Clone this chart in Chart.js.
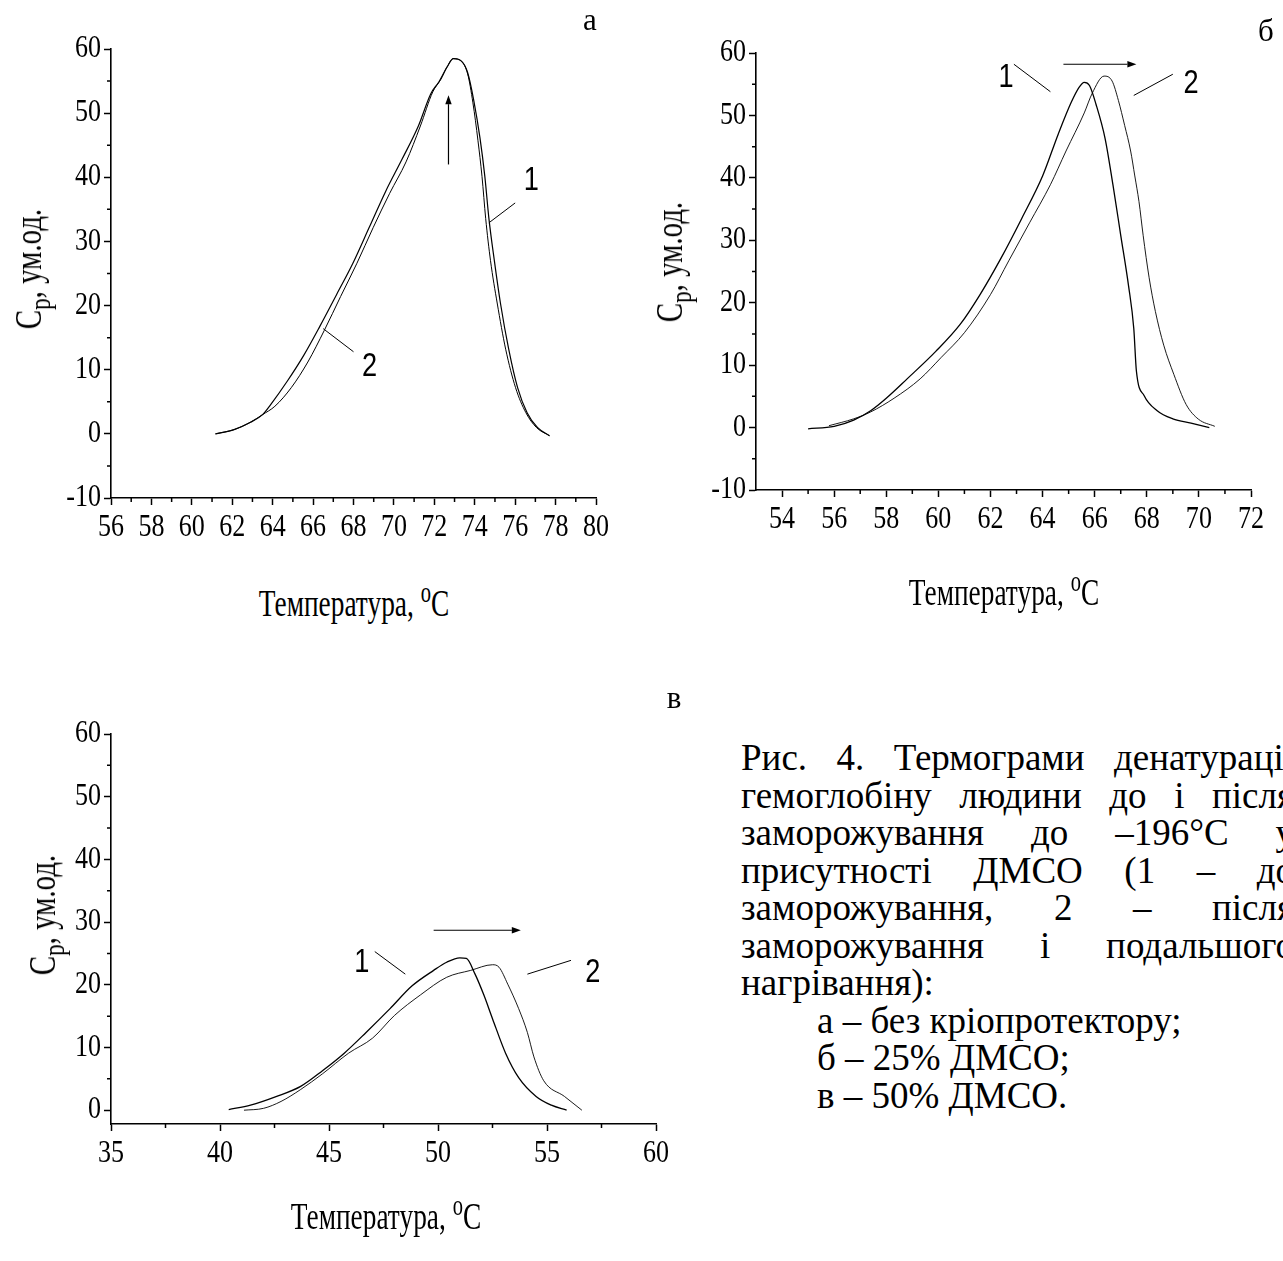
<!DOCTYPE html>
<html>
<head>
<meta charset="utf-8">
<script src="https://cdn.jsdelivr.net/npm/chart.js@4.4.0/dist/chart.umd.min.js"></script>
<style>
  html, body { margin: 0; padding: 0; background: #fff; overflow: hidden; width: 1283px; height: 1261px; }
  canvas { position: absolute; }
  .t { position: absolute; font-family: "Liberation Serif", "Times New Roman", serif; color: #000; white-space: nowrap; line-height: 1; }
  .xt { font-size: 38px; transform: translate(-50%, -50%) scaleX(0.72); }
  .yt { font-size: 38px; transform: translate(-50%, -50%) rotate(-90deg) scaleX(0.76); }
  .pl { font-size: 31px; transform: translate(-50%, -50%); }
  sub { font-size: 0.8em; vertical-align: -0.3em; line-height: 0; }
  sup { font-size: 0.75em; vertical-align: 0.5em; line-height: 0; }
  #cap { position: absolute; left: 741px; top: 739px; width: 553px; font-family: "Liberation Serif", "Times New Roman", serif; font-size: 37px; line-height: 37.5px; color: #000; }
  #cap .j { text-align: justify; text-align-last: justify; white-space: nowrap; }
  #cap .li { padding-left: 76px; }
</style>
</head>
<body>
<canvas id="chA" width="640" height="570" style="left:0;top:0"></canvas>
<canvas id="chB" width="643" height="570" style="left:640px;top:0"></canvas>
<canvas id="chC" width="700" height="540" style="left:0;top:680px"></canvas>

<div class="t pl" style="left:590px;top:19px">а</div>
<div class="t pl" style="left:1266px;top:30px">б</div>
<div class="t pl" style="left:674px;top:697px">в</div>

<div class="t yt" style="left:28px;top:269px">C<sub>p</sub>, ум.од.</div>
<div class="t yt" style="left:669px;top:262px">C<sub>p</sub>, ум.од.</div>
<div class="t yt" style="left:42px;top:915px">C<sub>p</sub>, ум.од.</div>

<div class="t xt" style="left:354px;top:603px">Температура, <sup>o</sup>C</div>
<div class="t xt" style="left:1004px;top:592px">Температура, <sup>o</sup>C</div>
<div class="t xt" style="left:386px;top:1216px">Температура, <sup>o</sup>C</div>

<div id="cap">
  <div class="j">Рис. 4. Термограми денатурації</div>
  <div class="j">гемоглобіну людини до і після</div>
  <div class="j">заморожування до –196°С у</div>
  <div class="j">присутності ДМСО (1 – до</div>
  <div class="j">заморожування, 2 – після</div>
  <div class="j">заморожування і подальшого</div>
  <div>нагрівання):</div>
  <div class="li">а – без кріопротектору;</div>
  <div class="li">б – 25% ДМСО;</div>
  <div class="li">в – 50% ДМСО.</div>
</div>

<script>
const SERIF = '"Liberation Serif", "Times New Roman", serif';
const SANS = '"Liberation Sans", Arial, sans-serif';

// ---- а: без кріопротектору ----
const tempA1 = [61.17, 62.09, 62.9, 63.5, 63.91, 64.72, 65.53, 66.34, 67.16, 67.97, 68.78, 69.59, 70.4, 71.21, 71.82, 72.23, 72.63, 72.94, 73.34, 73.65, 73.95, 74.26, 74.5, 74.7, 74.97, 75.27, 75.68, 76.12, 76.59, 77.1, 77.7];
const cpA1   = [0, 0.66, 1.8, 3.0, 4.6, 8.2, 12.2, 16.8, 21.7, 26.6, 32.2, 37.8, 42.8, 48.0, 53.0, 54.9, 57.2, 58.5, 58.1, 56.3, 52.0, 46.1, 40.1, 33.6, 27.0, 20.4, 13.2, 7.2, 3.3, 1.0, -0.3];
const tempA2 = [61.17, 62.09, 62.9, 63.5, 64.11, 64.92, 65.74, 66.55, 67.36, 68.17, 68.98, 69.79, 70.6, 71.31, 71.92, 72.33, 72.63, 72.94, 73.34, 73.65, 73.91, 74.16, 74.36, 74.54, 74.78, 75.11, 75.53, 76.02, 76.53, 77.05, 77.7];
const cpA2   = [0, 0.66, 1.8, 3.0, 4.3, 7.2, 11.2, 16.1, 21.4, 26.6, 32.2, 37.5, 42.4, 48.0, 53.3, 55.3, 57.2, 58.5, 58.1, 56.1, 51.6, 45.7, 40.1, 33.6, 27.0, 20.4, 13.2, 7.2, 3.3, 1.0, -0.3];
const xTicksA = [56, 58, 60, 62, 64, 66, 68, 70, 72, 74, 76, 78, 80];
const xMinorA = [57, 59, 61, 63, 65, 67, 69, 71, 73, 75, 77, 79];
const yTicksA = [-10, 0, 10, 20, 30, 40, 50, 60];
const yMinorA = [-5, 5, 15, 25, 35, 45, 55];

// ---- б: 25% ДМСО ----
const tempB1 = [55.0, 56.0, 56.75, 57.4, 58.0, 58.8, 59.9, 60.85, 61.6, 62.4, 63.2, 64.0, 64.6, 65.1, 65.4, 65.6, 65.8, 66.05, 66.4, 66.7, 67.0, 67.3, 67.5, 67.6, 67.9, 68.4, 69.0, 69.7, 70.4];
const cpB1   = [-0.2, 0.2, 1.2, 2.7, 4.7, 7.8, 12.2, 16.6, 21.3, 27.1, 33.5, 40.3, 47.0, 52.1, 54.5, 55.3, 54.8, 51.8, 46.3, 38.9, 30.8, 22.7, 15.9, 9.1, 5.1, 2.7, 1.4, 0.7, 0.0];
const tempB2 = [55.8, 56.75, 57.4, 58.3, 59.3, 60.1, 61.0, 62.0, 62.7, 63.5, 64.3, 64.9, 65.6, 65.9, 66.36, 66.67, 66.91, 67.15, 67.38, 67.54, 67.7, 67.86, 68.09, 68.33, 68.65, 69.04, 69.51, 69.98, 70.61];
const cpB2   = [0.3, 1.4, 2.5, 4.7, 7.8, 11.2, 15.2, 21.3, 26.7, 32.8, 38.9, 44.3, 50.4, 53.5, 56.3, 55.5, 52.4, 48.4, 44.3, 40.3, 36.2, 30.8, 24.0, 18.6, 13.2, 8.5, 3.7, 1.35, 0.2];
const xTicksB = [54, 56, 58, 60, 62, 64, 66, 68, 70, 72];
const xMinorB = [55, 57, 59, 61, 63, 65, 67, 69, 71];
const yTicksB = [-10, 0, 10, 20, 30, 40, 50, 60];
const yMinorB = [-5, 5, 15, 25, 35, 45, 55];

// ---- в: 50% ДМСО ----
const tempC1 = [40.4, 41.4, 42.6, 43.7, 44.7, 45.7, 46.7, 47.8, 48.8, 49.8, 50.4, 51.0, 51.3, 51.7, 52.1, 52.5, 53.1, 53.7, 54.5, 55.2, 55.9];
const cpC1   = [0.1, 0.8, 2.2, 3.8, 6.3, 9.1, 12.4, 16.2, 19.8, 22.3, 23.6, 24.3, 24.2, 21.7, 18.4, 14.6, 9.1, 5.2, 2.2, 0.8, 0.0];
const tempC2 = [41.1, 42.0, 42.8, 43.7, 44.7, 45.9, 47.0, 48.0, 49.2, 50.4, 51.5, 52.5, 52.8, 53.2, 53.7, 54.1, 54.4, 54.85, 55.8, 56.6];
const cpC2   = [0.0, 0.3, 1.4, 3.3, 5.8, 9.1, 11.5, 15.1, 18.4, 21.2, 22.3, 23.2, 22.8, 20.1, 16.2, 12.4, 8.5, 4.7, 2.2, 0.0];
const xTicksC = [35, 40, 45, 50, 55, 60];
const xMinorC = [37.5, 42.5, 47.5, 52.5, 57.5];
const yTicksC = [0, 10, 20, 30, 40, 50, 60];
const yMinorC = [5, 15, 25, 35, 45, 55];

// annotations (data coordinates)
const arrowA = [72.7, 42.0, 72.7, 52.8];
const leadersA = [[74.7, 32.9, 76.0, 36.0], [66.5, 16.4, 68.0, 12.8]];
const numsA = [['1', 76.8, 39.5], ['2', 68.8, 10.5]];
const arrowB = [64.8, 58.2, 67.6, 58.2];
const leadersB = [[62.9, 58.2, 64.3, 53.8], [67.5, 53.2, 69.0, 56.6]];
const numsB = [['1', 62.6, 56.1], ['2', 69.7, 55.1]];
const arrowC = [49.8, 28.7, 53.8, 28.7];
const leadersC = [[47.1, 25.3, 48.5, 21.7], [54.1, 21.7, 56.1, 23.9]];
const numsC = [['1', 46.5, 23.6], ['2', 57.1, 22.0]];

function pts(xs, ys) {
  return xs.map((x, i) => ({ x: x, y: ys[i] }));
}

// the figure is horizontally squeezed, so the chart text is drawn narrow
function narrowText(ctx, text, x, y, sx, align) {
  ctx.save();
  ctx.translate(x, y);
  ctx.scale(sx, 1);
  ctx.textAlign = align;
  ctx.fillText(text, 0, 0);
  ctx.restore();
}

function annotPlugin(cfg) {
  return {
    id: 'annot',
    afterDraw(chart) {
      const ctx = chart.ctx;
      const sx = chart.scales.x, sy = chart.scales.y;
      const area = chart.chartArea;
      const X = v => sx.getPixelForValue(v);
      const Y = v => sy.getPixelForValue(v);
      ctx.save();
      ctx.strokeStyle = '#000';
      ctx.fillStyle = '#000';
      // minor ticks
      ctx.lineWidth = 1.5;
      ctx.beginPath();
      cfg.xMinor.forEach(v => { ctx.moveTo(X(v), area.bottom); ctx.lineTo(X(v), area.bottom + 4); });
      cfg.yMinor.forEach(v => { ctx.moveTo(area.left, Y(v)); ctx.lineTo(area.left - 4, Y(v)); });
      ctx.stroke();
      // tick labels from the scales' own ticks
      ctx.font = '31px ' + SERIF;
      ctx.textBaseline = 'middle';
      sx.ticks.forEach(t => narrowText(ctx, String(t.value), X(t.value), area.bottom + 30, 0.84, 'center'));
      sy.ticks.forEach(t => narrowText(ctx, String(t.value), area.left - 10, Y(t.value), 0.84, 'right'));
      // leader lines
      ctx.lineWidth = 1;
      ctx.beginPath();
      cfg.leaders.forEach(l => { ctx.moveTo(X(l[0]), Y(l[1])); ctx.lineTo(X(l[2]), Y(l[3])); });
      ctx.stroke();
      // arrow
      const a = cfg.arrow;
      const x1 = X(a[0]), y1 = Y(a[1]), x2 = X(a[2]), y2 = Y(a[3]);
      const ang = Math.atan2(y2 - y1, x2 - x1);
      const hl = 9, hw = 3.2;
      const bx = x2 - hl * Math.cos(ang), by = y2 - hl * Math.sin(ang);
      ctx.lineWidth = 1.2;
      ctx.beginPath(); ctx.moveTo(x1, y1); ctx.lineTo(bx, by); ctx.stroke();
      ctx.beginPath();
      ctx.moveTo(x2, y2);
      ctx.lineTo(bx + hw * Math.sin(ang), by - hw * Math.cos(ang));
      ctx.lineTo(bx - hw * Math.sin(ang), by + hw * Math.cos(ang));
      ctx.closePath(); ctx.fill();
      // curve numbers
      ctx.font = '34px ' + SANS;
      ctx.textBaseline = 'middle';
      cfg.nums.forEach(n => narrowText(ctx, n[0], X(n[1]), Y(n[2]), 0.8, 'center'));
      ctx.restore();
    }
  };
}

function makePanel(id, w, h, area, xr, yr, xTicks, yTicks, sets, cfg) {
  const yW = 70, xH = 50;
  const axisCommon = {
    type: 'linear',
    grid: { drawOnChartArea: false, drawTicks: true, tickLength: 7, tickWidth: 1.5, tickColor: '#000' },
    border: { display: true, color: '#000', width: 1.6 },
    // labels are painted by the plugin (narrowed), so the built-in ones stay invisible
    ticks: { color: 'rgba(0,0,0,0)', font: { family: SERIF, size: 31 }, padding: 3, autoSkip: false, maxRotation: 0 }
  };
  new Chart(document.getElementById(id), {
    type: 'scatter',
    data: {
      datasets: sets.map(s => ({
        data: pts(s.x, s.y),
        showLine: true,
        borderColor: '#000',
        borderWidth: s.w,
        pointRadius: 0,
        cubicInterpolationMode: 'monotone',
        fill: false
      }))
    },
    options: {
      responsive: false,
      animation: false,
      devicePixelRatio: 1,
      layout: { padding: { left: area.l - yW, top: area.t, right: w - area.r, bottom: h - area.b - xH } },
      plugins: { legend: { display: false }, tooltip: { enabled: false } },
      scales: {
        x: Object.assign({}, axisCommon, {
          min: xr[0], max: xr[1],
          afterBuildTicks: s => { s.ticks = xTicks.map(v => ({ value: v })); },
          afterFit: s => { s.height = xH; s.paddingLeft = 0; s.paddingRight = 0; }
        }),
        y: Object.assign({}, axisCommon, {
          min: yr[0], max: yr[1],
          afterBuildTicks: s => { s.ticks = yTicks.map(v => ({ value: v })); },
          afterFit: s => { s.width = yW; s.paddingTop = 0; s.paddingBottom = 0; }
        })
      }
    },
    plugins: [annotPlugin(cfg)]
  });
}

makePanel('chA', 640, 570, { l: 111, t: 49, r: 596, b: 498 }, [56, 80], [-10, 60], xTicksA, yTicksA,
  [{ x: tempA1, y: cpA1, w: 1.2 }, { x: tempA2, y: cpA2, w: 1.0 }],
  { xMinor: xMinorA, yMinor: yMinorA, arrow: arrowA, leaders: leadersA, nums: numsA });

makePanel('chB', 643, 570, { l: 116, t: 53, r: 611, b: 490 }, [53, 72], [-10, 60], xTicksB, yTicksB,
  [{ x: tempB1, y: cpB1, w: 1.3 }, { x: tempB2, y: cpB2, w: 0.9 }],
  { xMinor: xMinorB, yMinor: yMinorB, arrow: arrowB, leaders: leadersB, nums: numsB });

makePanel('chC', 700, 540, { l: 111, t: 54, r: 656, b: 444 }, [35, 60], [-2.2, 60], xTicksC, yTicksC,
  [{ x: tempC1, y: cpC1, w: 1.3 }, { x: tempC2, y: cpC2, w: 0.9 }],
  { xMinor: xMinorC, yMinor: yMinorC, arrow: arrowC, leaders: leadersC, nums: numsC });
</script>
</body>
</html>
